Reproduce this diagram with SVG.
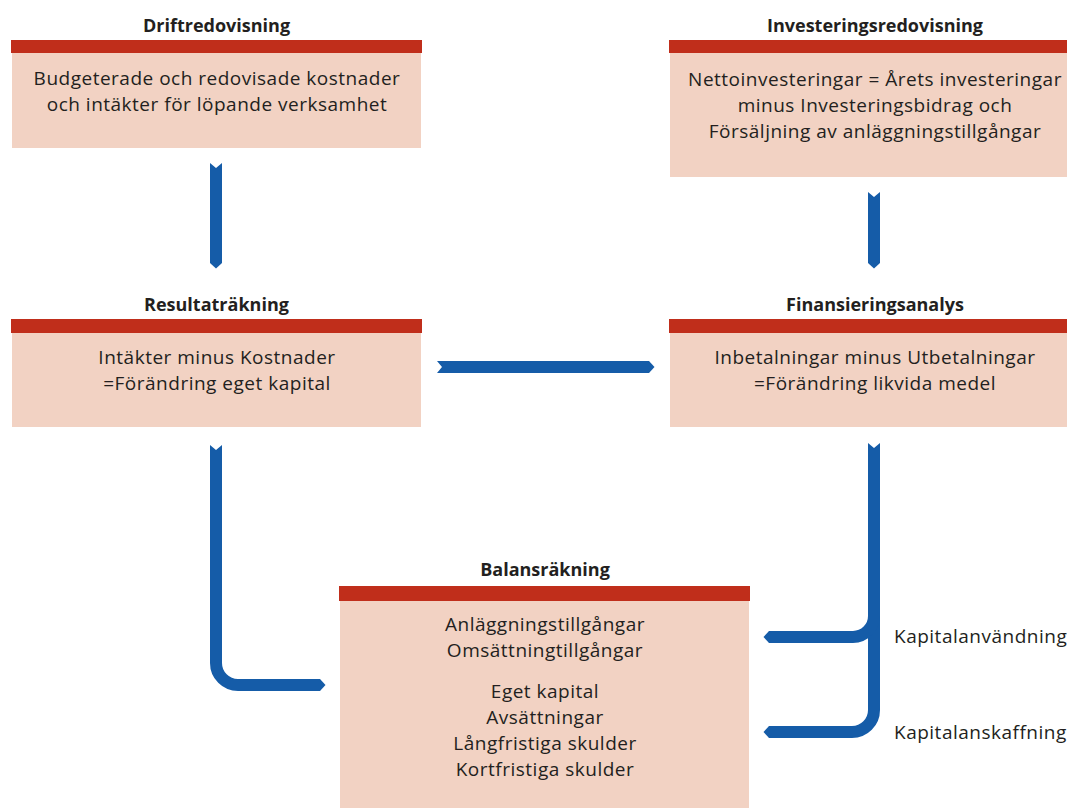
<svg xmlns="http://www.w3.org/2000/svg" width="1067" height="808" viewBox="0 0 1067 808">
<defs>
<style>
.bar{fill:#c02e1b}
.box{fill:#f2d2c3}
.title{font-family:"Open Sans","Liberation Sans",sans-serif;font-weight:bold;font-size:18px;fill:#231f20;text-anchor:middle}
.txt{font-family:"Open Sans","Liberation Sans",sans-serif;font-size:19px;letter-spacing:0.5px;fill:#231f20;text-anchor:middle}
.lbl{font-family:"Open Sans","Liberation Sans",sans-serif;font-size:19px;letter-spacing:0.5px;fill:#231f20}
.arr{fill:none;stroke:#155ca8;stroke-width:12;stroke-linecap:butt;stroke-linejoin:miter}
</style>
<marker id="head" markerUnits="userSpaceOnUse" markerWidth="6" markerHeight="12" viewBox="0 0 6 12" refX="0" refY="6" orient="auto">
<path d="M0,0 L5.5,6 L0,12 Z" fill="#155ca8"/>
</marker>
<marker id="tail" markerUnits="userSpaceOnUse" markerWidth="6" markerHeight="14" viewBox="0 -1 6 14" refX="0" refY="6" orient="auto">
<path d="M0,-1 L0,0 L5,6 L0,12 L0,13 L-1,13 L-1,-1 Z" fill="#ffffff"/>
</marker>
</defs>
<rect width="1067" height="808" fill="#ffffff"/>

<g id="driftredovisning">
<text class="title" x="216.5" y="32">Driftredovisning</text>
<rect class="bar" x="11" y="40" width="411" height="13"/>
<rect class="box" x="12" y="53" width="409" height="95"/>
<text class="txt" x="217" y="85">Budgeterade och redovisade kostnader</text>
<text class="txt" x="217" y="111">och intäkter för löpande verksamhet</text>
</g>

<g id="investeringsredovisning">
<text class="title" x="875" y="32">Investeringsredovisning</text>
<rect class="bar" x="669" y="40" width="398" height="13"/>
<rect class="box" x="670" y="53" width="397" height="124"/>
<text class="txt" x="875" y="86">Nettoinvesteringar = Årets investeringar</text>
<text class="txt" x="875" y="112">minus Investeringsbidrag och</text>
<text class="txt" x="875" y="138">Försäljning av anläggningstillgångar</text>
</g>

<g id="resultatrakning">
<text class="title" x="216.5" y="311">Resultaträkning</text>
<rect class="bar" x="11" y="319" width="411" height="14"/>
<rect class="box" x="12" y="333" width="409" height="94"/>
<text class="txt" x="217" y="364">Intäkter minus Kostnader</text>
<text class="txt" x="217" y="390">=Förändring eget kapital</text>
</g>

<g id="finansieringsanalys">
<text class="title" x="875" y="311">Finansieringsanalys</text>
<rect class="bar" x="669" y="319" width="398" height="14"/>
<rect class="box" x="670" y="333" width="397" height="94"/>
<text class="txt" x="875" y="364">Inbetalningar minus Utbetalningar</text>
<text class="txt" x="875" y="390">=Förändring likvida medel</text>
</g>

<g id="balansrakning">
<text class="title" x="545" y="576">Balansräkning</text>
<rect class="bar" x="339" y="586" width="411" height="15"/>
<rect class="box" x="340" y="601" width="409" height="207"/>
<text class="txt" x="545" y="631">Anläggningstillgångar</text>
<text class="txt" x="545" y="657">Omsättningtillgångar</text>
<text class="txt" x="545" y="698">Eget kapital</text>
<text class="txt" x="545" y="724">Avsättningar</text>
<text class="txt" x="545" y="750">Långfristiga skulder</text>
<text class="txt" x="545" y="776">Kortfristiga skulder</text>
</g>

<g id="connectors">
<path class="arr" d="M216,163 V263" marker-start="url(#tail)" marker-end="url(#head)"/>
<path class="arr" d="M874,192 V263" marker-start="url(#tail)" marker-end="url(#head)"/>
<path class="arr" d="M437,367 H649" marker-start="url(#tail)" marker-end="url(#head)"/>
<path class="arr" d="M216,445 V663 A22,22 0 0 0 238,685 H320" marker-start="url(#tail)" marker-end="url(#head)"/>
<path class="arr" d="M874,443 V710 A22,22 0 0 1 852,732 H769" marker-start="url(#tail)" marker-end="url(#head)"/>
<path class="arr" d="M874,616 A21,21 0 0 1 853,637 H769" marker-end="url(#head)"/>
</g>

<g id="labels">
<text class="lbl" x="894" y="643">Kapitalanvändning</text>
<text class="lbl" x="894" y="739">Kapitalanskaffning</text>
</g>
</svg>
